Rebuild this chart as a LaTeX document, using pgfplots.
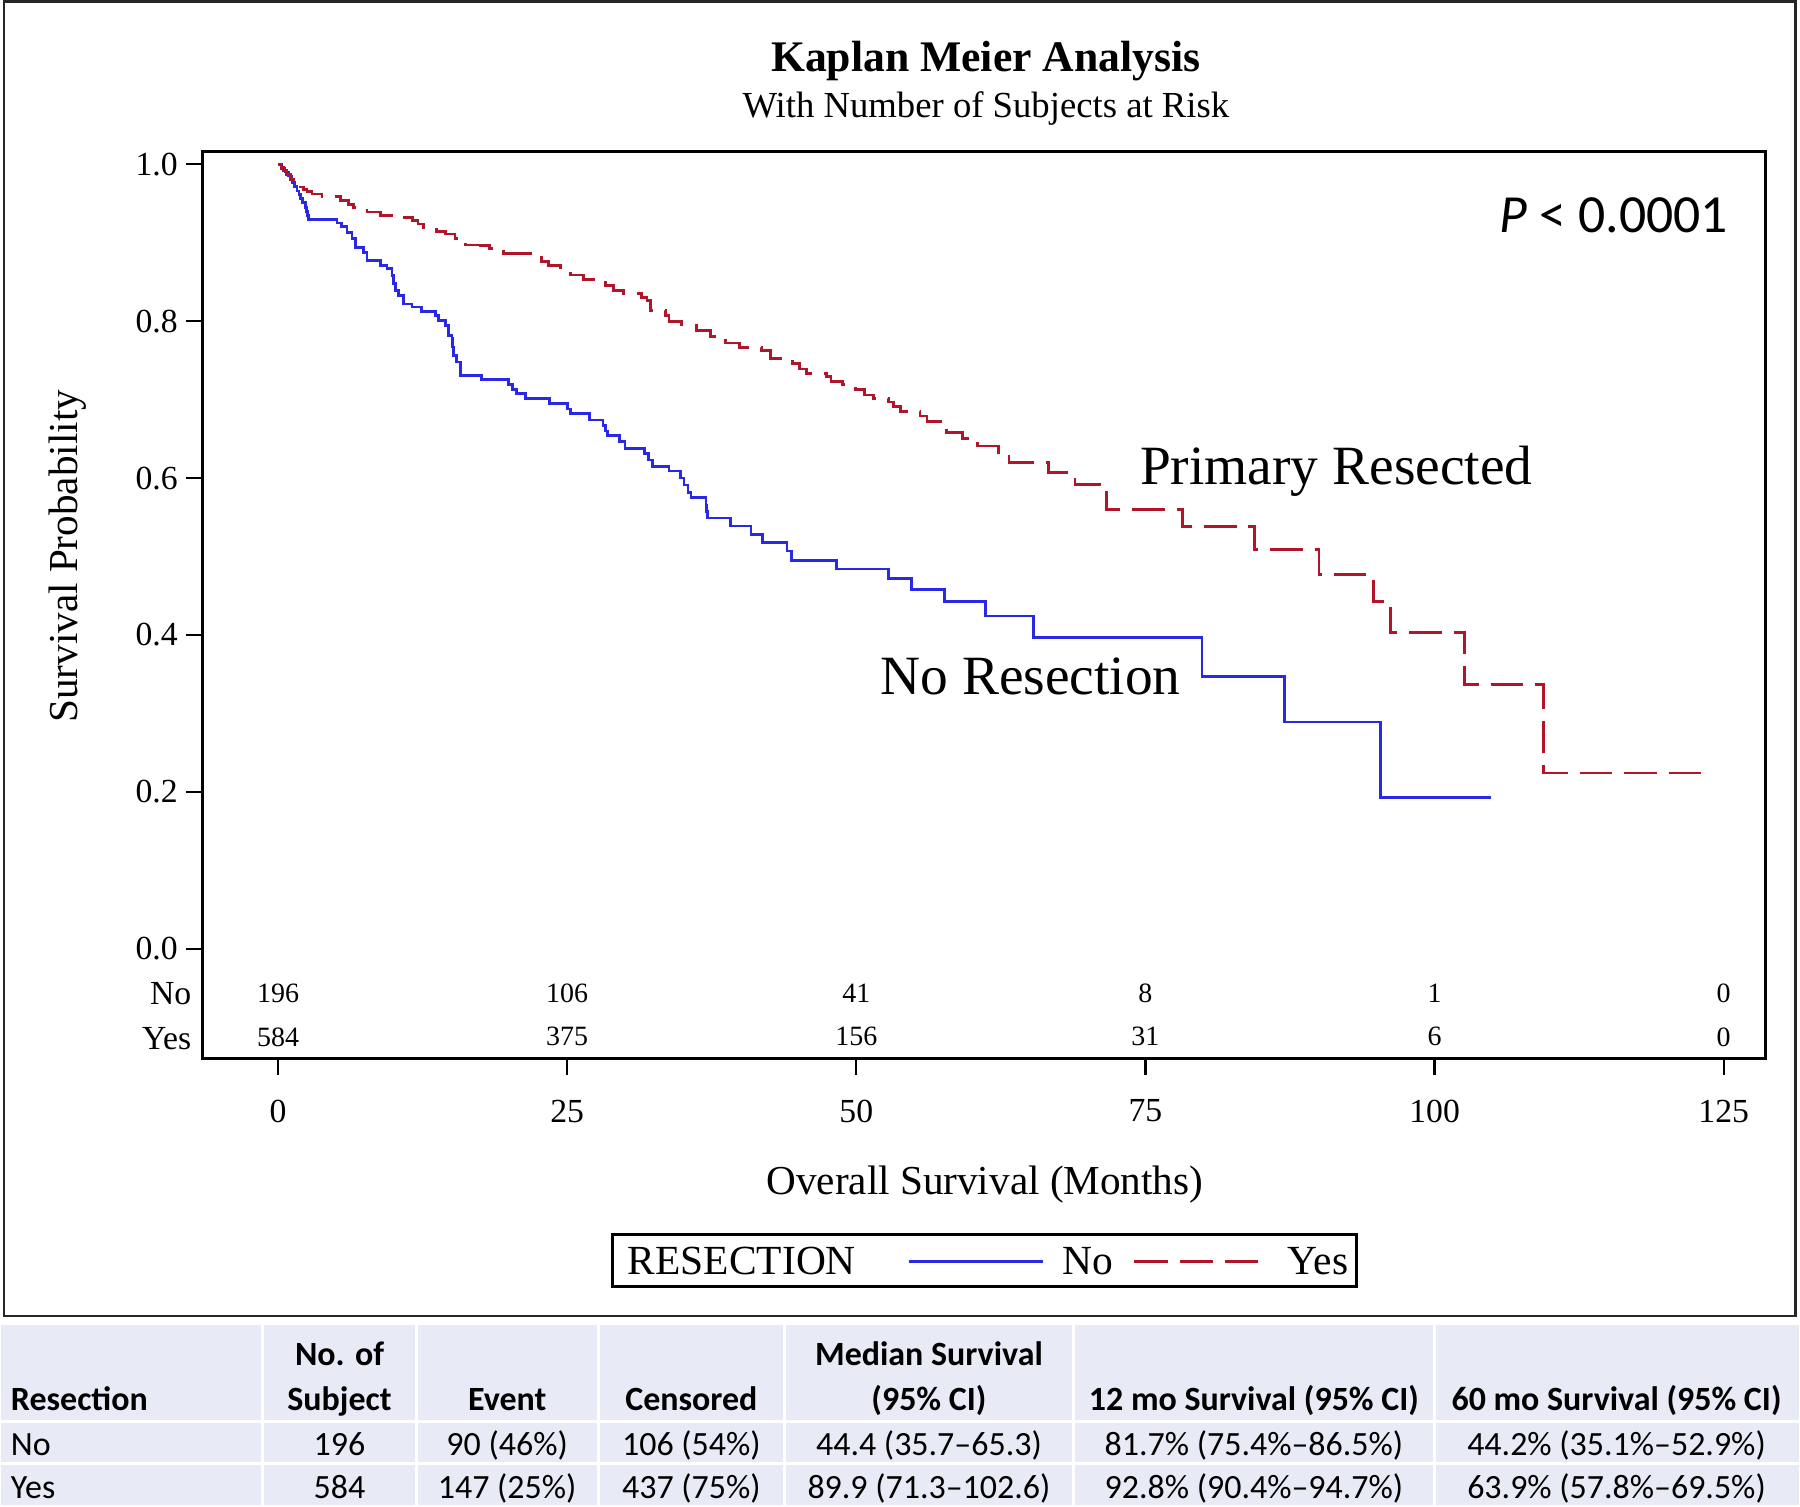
\documentclass[border=0pt]{standalone}
\usepackage{pgfplots}
\pgfplotsset{compat=1.18}
\usepackage{fontspec}
\setmainfont{Liberation Serif}
\newfontfamily\calib{Carlito}
\definecolor{kmblue}{RGB}{40,40,230}
\definecolor{kmred}{RGB}{178,20,42}
\definecolor{tblbg}{RGB}{232,235,245}
\newcommand{\fs}[1]{\fontsize{#1}{#1}\selectfont}

\pgfplotstableread{
t s
0 1.000
0.3 0.995
0.6 0.990
0.9 0.985
1.2 0.977
1.4 0.972
1.63 0.966
1.8 0.961
1.92 0.956
2.1 0.951
2.35 0.945
2.45 0.940
2.55 0.935
2.64 0.930
5.1 0.925
5.5 0.921
5.95 0.913
6.4 0.905
6.67 0.894
7.39 0.888
7.68 0.877
8.83 0.871
9.41 0.867
9.84 0.858
10.0 0.848
10.13 0.839
10.41 0.833
10.85 0.822
11.57 0.818
12.4 0.812
13.6 0.807
13.9 0.801
14.45 0.794
14.74 0.782
15.03 0.778
15.1 0.767
15.17 0.756
15.46 0.748
15.75 0.731
17.6 0.726
19.9 0.719
20.3 0.713
20.6 0.708
21.4 0.701
23.5 0.695
25.0 0.688
25.3 0.682
26.9 0.674
28.1 0.667
28.3 0.660
28.5 0.654
29.5 0.647
30.0 0.638
31.7 0.631
32.0 0.623
32.4 0.615
33.8 0.609
34.8 0.600
35.1 0.591
35.45 0.582
35.7 0.575
37.0 0.565
37.05 0.557
37.1 0.549
39.1 0.539
40.9 0.528
41.9 0.518
44.0 0.507
44.4 0.495
48.3 0.484
52.8 0.472
54.8 0.458
57.6 0.443
61.2 0.424
65.3 0.397
79.9 0.347
87.0 0.289
95.35 0.193
104.9 0.193
}\noresect

\pgfplotstableread{
t s
0 1.000
0.25 0.996
0.48 0.992
0.75 0.987
1.05 0.981
1.34 0.975
1.92 0.971
2.2 0.968
2.5 0.965
2.93 0.962
3.8 0.959
5.4 0.954
6.1 0.949
6.5 0.945
7.68 0.939
8.83 0.935
10.9 0.932
11.6 0.928
12.1 0.924
12.6 0.919
13.7 0.914
14.5 0.911
15.3 0.905
16.2 0.897
17.5 0.896
18.3 0.893
19.5 0.886
22.8 0.876
23.4 0.871
24.45 0.868
25.3 0.859
26.4 0.853
28.3 0.845
29.0 0.839
29.9 0.835
31.4 0.830
31.9 0.826
32.2 0.814
33.5 0.807
33.8 0.800
34.9 0.795
36.2 0.788
37.4 0.780
38.7 0.772
39.9 0.766
41.8 0.763
42.6 0.752
44.5 0.746
45.1 0.739
45.7 0.733
47.4 0.729
47.8 0.723
48.8 0.719
49.9 0.713
50.7 0.706
51.5 0.701
52.8 0.697
53.2 0.691
53.8 0.685
55.5 0.679
56.1 0.672
57.3 0.665
57.8 0.658
59.2 0.650
59.6 0.644
60.5 0.641
62.3 0.630
63.2 0.620
66.6 0.607
68.9 0.592
71.6 0.560
78.2 0.538
84.4 0.509
90.0 0.477
94.7 0.443
96.2 0.403
102.6 0.337
109.4 0.224
123.3 0.224
}\resect

\pgfplotstableread{
t y n
0 -0.0573 196
25 -0.0573 106
50 -0.0573 41
75 -0.0573 8
100 -0.0573 1
125 -0.0573 0
0 -0.1124 584
25 -0.1124 375
50 -0.1124 156
75 -0.1124 31
100 -0.1124 6
125 -0.1124 0
}\atrisk

\begin{document}
\begin{tikzpicture}
\begin{scope}[x=0.4pt,y=-0.4pt]
\path[use as bounding box] (0,0) rectangle (1800,1507);
\end{scope}
\begin{axis}[
  at={(80.6pt,-60.4pt)}, anchor=north west,
  scale only axis, width=626pt, height=363.6pt,
  xmin=-6.52, xmax=128.58, ymin=-0.140, ymax=1.0169,
  xtick={0,25,50,75,100,125}, ytick={0,0.2,0.4,0.6,0.8,1},
  tick align=outside, xtick pos=bottom, ytick pos=left,
  major tick length=6.5pt,
  axis line style={line width=1.2pt},
  every tick/.style={black, line width=0.9pt},
  tick label style={font=\fs{13.5}},
  /pgf/number format/assume math mode=true,
  yticklabel style={/pgf/number format/fixed, /pgf/number format/fixed zerofill, /pgf/number format/precision=1},
  xticklabel style={yshift=-6.5pt},
]
\addplot[const plot, kmblue, line width=1.1pt] table[x=t,y=s] {\noresect};
\addplot[const plot, kmred, line width=1.1pt, dash pattern=on 13pt off 4.8pt] table[x=t,y=s] {\resect};
\addplot[only marks, mark=none, nodes near coords, point meta=explicit symbolic,
  nodes near coords align={anchor=center},
  every node near coord/.append style={font=\fs{11.2}, anchor=center, inner sep=0pt}]
  table[x=t,y=y,meta=n] {\atrisk};
\end{axis}
\begin{scope}[x=0.4pt,y=-0.4pt]
% frame
\draw[line width=1pt, black!85] (2.5,1) rectangle (1797,1318);
% titles
\node[anchor=base, font=\bfseries\fs{17.5}] at (986,71) {Kaplan Meier Analysis};
\node[anchor=base, font=\fs{14.7}] at (986,117) {With Number of Subjects at Risk};
\node[anchor=base, rotate=90, font=\fs{16.5}] at (76,557) {Survival Probability};
\node[anchor=base, font=\fs{16.5}] at (985,1196) {Overall Survival (Months)};
% at-risk row labels
\node[anchor=east, font=\fs{13.5}, inner sep=0pt] at (190.5,995.5) {No};
\node[anchor=east, font=\fs{13.5}, inner sep=0pt] at (190.5,1040.5) {Yes};
% curve labels
\node[anchor=base west, inner sep=0pt, font=\fs{22.2}] at (1140,485) {Primary Resected};
\node[anchor=base west, inner sep=0pt, font=\fs{22.2}] at (880,695) {No Resection};
\node[anchor=base east, inner sep=0pt, font=\calib\fs{21.5}] at (1730,233) {\itshape P\upshape{} < 0.0001};
% legend
\draw[line width=1.2pt] (612.5,1236) rectangle (1357,1288.5);
\node[anchor=base west, inner sep=0pt, font=\fs{16.6}] at (627,1276) {RESECTION};
\draw[kmblue, line width=1.1pt] (908.5,1263.5) -- (1042.8,1263.5);
\node[anchor=base west, inner sep=0pt, font=\fs{16.6}] at (1062.7,1276) {No};
\draw[kmred, line width=1.1pt, dash pattern=on 13.5pt off 4.6pt] (1134.8,1263.5) -- (1259.2,1263.5);
\node[anchor=base west, inner sep=0pt, font=\fs{16.6}] at (1288,1276) {Yes};
% table
\fill[tblbg] (0,1327) rectangle (1800,1507);
\foreach \xx in {261.7,415.6,597.5,784.5,1073.5,1435.5}
  \draw[white, line width=1.2pt] (\xx,1327) -- (\xx,1507);
\foreach \yy in {1423.5,1466}
  \draw[white, line width=1.2pt] (0,\yy) -- (1800,\yy);
\begin{scope}[every node/.style={inner sep=0pt, font=\calib\fs{13.6}}]
\node[anchor=base west, font=\calib\bfseries\fs{13.6}] at (9,1413) {Resection};
\node[anchor=base, font=\calib\bfseries\fs{13.6}] at (338.6,1367) {No. of};
\node[anchor=base, font=\calib\bfseries\fs{13.6}] at (338.6,1413) {Subject};
\node[anchor=base, font=\calib\bfseries\fs{13.6}] at (506.5,1413) {Event};
\node[anchor=base, font=\calib\bfseries\fs{13.6}] at (691,1413) {Censored};
\node[anchor=base, font=\calib\bfseries\fs{13.6}] at (929,1367) {Median Survival};
\node[anchor=base, font=\calib\bfseries\fs{13.6}] at (929,1413) {(95\% CI)};
\node[anchor=base, font=\calib\bfseries\fs{13.6}] at (1254.5,1413) {12 mo Survival (95\% CI)};
\node[anchor=base, font=\calib\bfseries\fs{13.6}] at (1617.7,1413) {60 mo Survival (95\% CI)};
\node[anchor=base west] at (9,1458) {No};
\node[anchor=base] at (338.6,1458) {196};
\node[anchor=base] at (506.5,1458) {90 (46\%)};
\node[anchor=base] at (691,1458) {106 (54\%)};
\node[anchor=base] at (929,1458) {44.4 (35.7–65.3)};
\node[anchor=base] at (1254.5,1458) {81.7\% (75.4\%–86.5\%)};
\node[anchor=base] at (1617.7,1458) {44.2\% (35.1\%–52.9\%)};
\node[anchor=base west] at (9,1501) {Yes};
\node[anchor=base] at (338.6,1501) {584};
\node[anchor=base] at (506.5,1501) {147 (25\%)};
\node[anchor=base] at (691,1501) {437 (75\%)};
\node[anchor=base] at (929,1501) {89.9 (71.3–102.6)};
\node[anchor=base] at (1254.5,1501) {92.8\% (90.4\%–94.7\%)};
\node[anchor=base] at (1617.7,1501) {63.9\% (57.8\%–69.5\%)};
\end{scope}
\end{scope}
\end{tikzpicture}
\end{document}
